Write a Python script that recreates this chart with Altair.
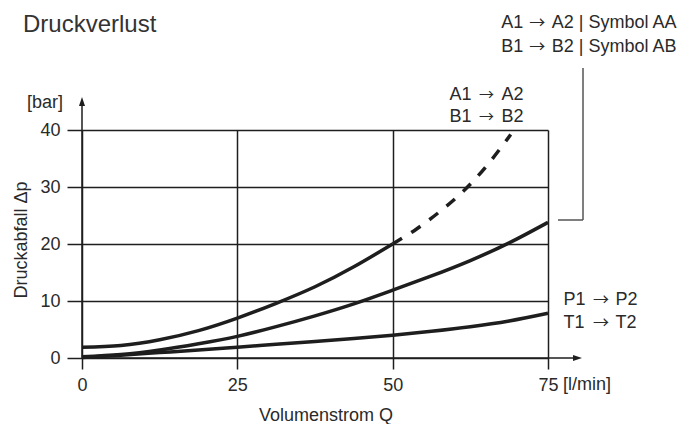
import altair as alt
import pandas as pd

# ---- data ----
q_top = [0, 6.25, 12.5, 18.75, 25, 31.25, 37.5, 43.75, 50]
dp_top = [1.9, 2.2, 3.2, 4.8, 7.0, 9.6, 12.5, 16.0, 20.0]
q_top_dash = [50, 53.8, 57.6, 61.4, 65.2, 69]
dp_top_dash = [20.0, 22.6, 25.7, 29.3, 33.8, 39.2]
q_mid = [0, 6.25, 12.5, 18.75, 25, 31.25, 37.5, 43.75, 50, 56.25, 62.5, 68.75, 75]
dp_mid = [0.2, 0.6, 1.4, 2.5, 3.8, 5.5, 7.4, 9.5, 11.9, 14.4, 17.1, 20.2, 23.8]
q_low = [0, 6.25, 12.5, 18.75, 25, 31.25, 37.5, 43.75, 50, 56.25, 62.5, 68.75, 75]
dp_low = [0.1, 0.5, 0.95, 1.4, 1.9, 2.4, 2.9, 3.4, 4.0, 4.7, 5.5, 6.5, 7.85]
x_ticks = [0, 25, 50, 75]
y_ticks = [0, 10, 20, 30, 40]

FONT = "Liberation Sans"
ARROW_FONT = "Noto Sans CJK SC"
INK = "#1e1e1e"
TXT = "#2a2a2a"
FS = 18

df_top = pd.DataFrame({"q": q_top, "dp": dp_top})
df_dash = pd.DataFrame({"q": q_top_dash, "dp": dp_top_dash})
df_mid = pd.DataFrame({"q": q_mid, "dp": dp_mid})
df_low = pd.DataFrame({"q": q_low, "dp": dp_low})
one = pd.DataFrame({"k": [0]})

xs = alt.Scale(domain=[0, 75], nice=False, zero=False)
ys = alt.Scale(domain=[0, 40], nice=False, zero=False)
xax = alt.Axis(values=x_ticks, grid=True, gridColor=INK, gridWidth=1.5, gridOpacity=1,
               domain=False, ticks=True, tickSize=11, tickColor=INK, tickWidth=1.5,
               labelFont=FONT, labelFontSize=FS, labelColor=TXT, labelPadding=7,
               labelFlush=False, labelOverlap=False, title=None)
yax = alt.Axis(values=y_ticks, grid=True, gridColor=INK, gridWidth=1.5, gridOpacity=1,
               domain=False, ticks=True, tickSize=15, tickColor=INK, tickWidth=1.5,
               labelFont=FONT, labelFontSize=FS, labelColor=TXT, labelPadding=7,
               labelFlush=False, labelOverlap=False, title=None)


def curve(df, dash=None):
    kw = dict(color=INK, strokeWidth=3.5, interpolate="natural", clip=False)
    if dash:
        kw["strokeDash"] = dash
    return alt.Chart(df).mark_line(**kw).encode(
        x=alt.X("q:Q", scale=xs, axis=xax),
        y=alt.Y("dp:Q", scale=ys, axis=yax),
    )


def label(text, x, y, size=FS, align="left", angle=None, color=TXT, font=FONT, lh=None):
    kw = dict(font=font, fontSize=size, align=align, color=color, baseline="alphabetic")
    if lh is not None:
        kw["lineBreak"] = "\n"
        kw["lineHeight"] = lh
    if angle is not None:
        kw["angle"] = angle
        kw["baseline"] = "middle"
    return alt.Chart(one).mark_text(**kw).encode(
        x=alt.value(x), y=alt.value(y), text=alt.value(text))


def arrow_block(lefts, rights, xl, xa, xr, y, lh, afs=16):
    n = len(lefts)
    return [
        label("\n".join(lefts), xl, y, lh=lh),
        label("\n".join(["\u2192"] * n), xa, y, size=afs, align="center", font=ARROW_FONT, lh=lh),
        label("\n".join(rights), xr, y, lh=lh),
    ]


def rule(x, y, x2=None, y2=None, color=INK, w=1.5):
    enc = dict(x=alt.value(x), y=alt.value(y))
    if x2 is not None:
        enc["x2"] = alt.value(x2)
    if y2 is not None:
        enc["y2"] = alt.value(y2)
    return alt.Chart(one).mark_rule(color=color, strokeWidth=w).encode(**enc)


arrow_up = "M0,-1L0.67,1L-0.67,1Z"
arrow_right = "M1,0L-1,0.67L-1,-0.67Z"

layers = [
    curve(df_low),
    curve(df_mid),
    curve(df_top),
    curve(df_dash, dash=[11, 11]),
    # axis lines with arrows
    rule(0, 228, y2=-29),
    rule(0, 228, x2=496),
    alt.Chart(one).mark_point(shape=arrow_up, filled=True, size=81, color=INK, opacity=1).encode(
        x=alt.value(0), y=alt.value(-28.5)),
    alt.Chart(one).mark_point(shape=arrow_right, filled=True, size=81, color=INK, opacity=1).encode(
        x=alt.value(495.5), y=alt.value(228)),
    # bracket
    rule(501, -62, y2=90, color="#555555"),
    rule(476, 90, x2=501, color="#555555"),
    # texts
    label("Druckverlust", -59, -98, size=24, color="#333333"),
    *arrow_block(["A1", "B1"], ["A2 | Symbol AA", "B2 | Symbol AB"], 419.2, 455.3, 469.8, -101.7, 23.4),
    *arrow_block(["A1", "B1"], ["A2", "B2"], 367.4, 404.6, 419.6, -30.1, 21.8, afs=15),
    *arrow_block(["P1", "T1"], ["P2", "T2"], 481.5, 519, 533.4, 175, 23.3),
    label("[bar]", -19, -22, align="right"),
    label("Druckabfall \u0394p", -60, 110, align="center", angle=270),
    label("Volumenstrom Q", 244, 291, align="center"),
    label("[l/min]", 481, 260),
]

chart = alt.layer(*layers).properties(
    width=466, height=228,
    autosize=alt.AutoSizeParams(type="none"),
    padding={"left": 74, "top": 122, "right": 144, "bottom": 66},
).configure_view(stroke=None)

chart.save("out.html", embed_options={"renderer": "svg", "actions": False})
